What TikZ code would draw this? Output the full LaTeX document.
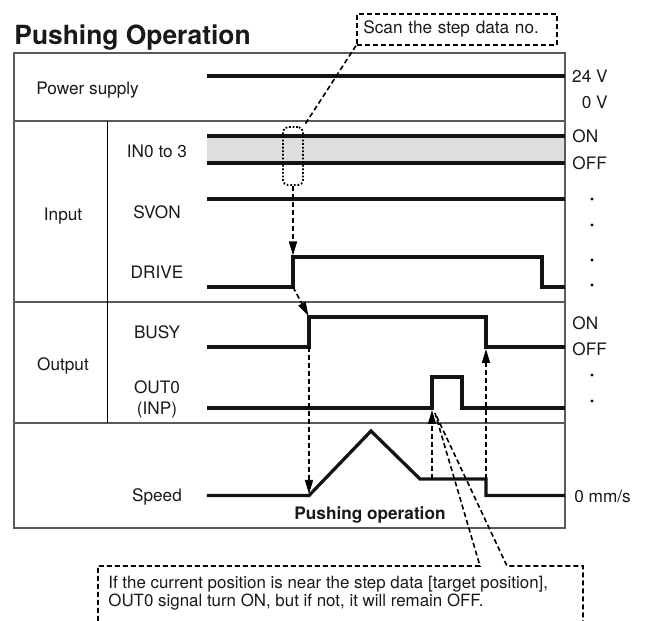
\documentclass[tikz,border=0pt]{standalone}
\usepackage{fontspec}
\setmainfont{TeX Gyre Heros}
\usetikzlibrary{
  arrows.meta,
  positioning,
  calc
}
\definecolor{signalcolor}{RGB}{20, 20, 20}
\definecolor{framecolor}{RGB}{90, 90, 90}
\definecolor{bandcolor}{RGB}{222, 222, 222}
\definecolor{labelcolor}{RGB}{25, 25, 25}
\tikzset{
labeltext/.style={
  font=\fontsize{8.6}{10.3}\selectfont,
  text=labelcolor,
  inner sep=0pt
},
titlelabel/.style={
  font=\bfseries\fontsize{13.2}{15}\selectfont,
  text=labelcolor,
  inner sep=0pt
},
boldlabel/.style={
  labeltext,
  font=\bfseries\fontsize{8.6}{10.3}\selectfont
},
notetext/.style={
  labeltext,
  font=\fontsize{8.45}{10.1}\selectfont
},
frameline/.style={
  draw=framecolor,
  line width=0.7pt
},
divider/.style={
  draw=black,
  line width=0.5pt
},
signal/.style={
  draw=signalcolor,
  line width=1.65pt
},
dashedline/.style={
  draw=black,
  line width=0.8pt,
  dash pattern=on 2.5pt off 1.5pt
},
arrow/.style={
  dashedline,
  -{Triangle[length=7pt,width=4pt]}
},
notebox/.style={
  labeltext,
  dashedline,
  inner xsep=3.3pt,
  align=left
},
scanwin/.style={
  draw=black,
  rounded corners=2.5pt,
  line width=0.9pt,
  dash pattern=on 0.9pt off 0.9pt,
  inner sep=0pt
}
}

\begin{document}
\begin{tikzpicture}[x=0.5pt, y=-0.5pt]
\useasboundingbox (0,0) rectangle (645,621);

% title
\node[titlelabel, anchor=base west] (title) at (14,45) {Pushing Operation};

% frame
\fill[bandcolor] (207,136) rectangle (565,163);
\draw[frameline] (14,53) rectangle (565,528);
\draw[frameline] (14,121) -- (565,121);
\draw[frameline] (14,302) -- (565,302);
\draw[frameline] (14,423) -- (565,423);
\draw[divider] (108,121) -- (108,423);

% signals
\draw[signal] (207,76) -- (565,76);
\draw[signal] (207,136) -- (565,136);
\draw[signal] (207,163) -- (565,163);
\draw[signal] (207,199) -- (565,199);
\draw[signal] (207,287) -- (293,287) -- (293,257) -- (542,257) -- (542,287) -- (565,287);
\draw[signal] (207,347) -- (309,347) -- (309,317) -- (486,317) -- (486,347) -- (565,347);
\draw[signal] (207,408) -- (432,408) -- (432,377) -- (462,377) -- (462,408) -- (565,408);
\draw[signal] (207,495.5) -- (309,495.5) -- (371,431) -- (420,479) -- (486,479) -- (486,495.5) -- (565,495.5);

% row labels
\node[labeltext, anchor=base west] (power) at (36,94.5) {Power supply};
\node[labeltext, anchor=base] (input) at (63,220.5) {Input};
\node[labeltext, anchor=base] (output) at (63,371) {Output};
\node[labeltext, anchor=base] (in03) at (157,157.5) {IN0 to 3};
\node[labeltext, anchor=base] (svon) at (157,218.5) {SVON};
\node[labeltext, anchor=base] (drive) at (157,278.5) {DRIVE};
\node[labeltext, anchor=base] (busy) at (157,338.5) {BUSY};
\node[labeltext, anchor=base] (out0) at (157,393.5) {OUT0};
\node[labeltext, anchor=base] (inp) at (157,415) {(INP)};
\node[labeltext, anchor=base] (speed) at (157,501.7) {Speed};
\node[boldlabel, anchor=base] (pushop) at (370,520) {Pushing operation};

% levels
\node[labeltext, anchor=base east] (v24) at (608,82.3) {24 V};
\node[labeltext, anchor=base east] (v0) at (608,109) {0 V};
\node[labeltext, anchor=base west] (inon) at (572,142.7) {ON};
\node[labeltext, anchor=base west] (inoff) at (572,169.3) {OFF};
\node[labeltext, anchor=base west] (outon) at (572,329.3) {ON};
\node[labeltext, anchor=base west] (outoff) at (572,356) {OFF};
\node[labeltext, anchor=base west] (zero) at (574,502.7) {0 mm/s};
\foreach \y in {199,225,260,285,375,401}
  \fill (592,\y) circle (0.85pt);

% scan callout
\node[notebox, anchor=north west, text width=93.4pt, minimum height=15.5pt] (scan) at (356,13) {Scan the step data no.};
\node[scanwin, minimum width=10pt, minimum height=29pt] (win) at (293,156) {};
\draw[dashedline] (scan.south west) -- (win.north east);

\coordinate (drivehigh) at (293,255.5);
\coordinate (drivelow) at (293,287);
\coordinate (busyhigh) at (308.5,316);
\coordinate (busylow) at (309,347);
\coordinate (speedstart) at (309,494);
\coordinate (speedflat) at (432,479);
\coordinate (inprise) at (432,410);
\coordinate (speeddrop) at (486,479);
\coordinate (busyfall) at (486,349);

\draw[arrow] (win.south) -- (drivehigh);
\draw[arrow] (drivelow) -- (busyhigh);
\draw[arrow] (busylow) -- (speedstart);
\draw[arrow] (speedflat) -- (inprise);
\draw[arrow] (speeddrop) -- (busyfall);

% note
\node[notetext, anchor=base west] (note1) at (108,588.3) {If the current position is near the step data [target position],};
\node[notetext, anchor=base west] (note2) at (108,606.7) {OUT0 signal turn ON, but if not, it will remain OFF.};
\draw[dashedline] (98,621) -- (98,566) -- (480,566) -- (435,413) -- (507,566) -- (583,566) -- (583,621);
\end{tikzpicture}
\end{document}
